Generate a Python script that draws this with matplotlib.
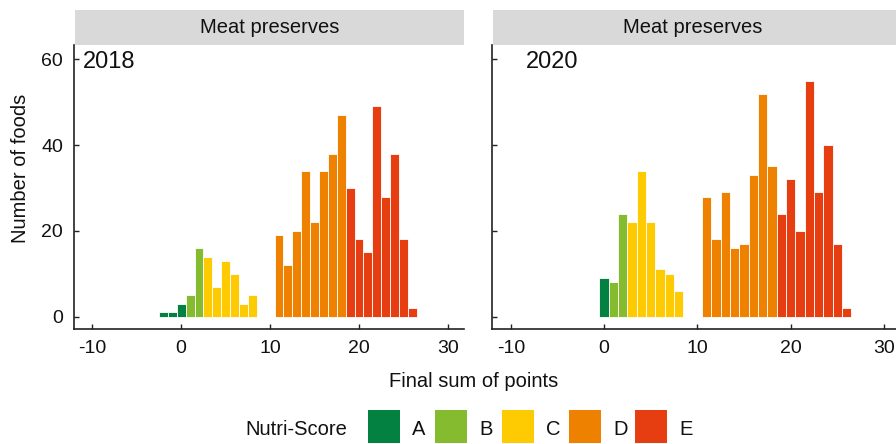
import numpy as np
import matplotlib
matplotlib.use("Agg")
import matplotlib.pyplot as plt
from matplotlib.patches import Rectangle

plt.rcParams['font.family'] = ['Liberation Sans', 'DejaVu Sans']
plt.rcParams['axes.unicode_minus'] = False

# --- DATA ---
scores_2018 = [-2, -1, 0, 1, 2, 3, 4, 5, 6, 7, 8,
               11, 12, 13, 14, 15, 16, 17, 18, 19, 20, 21, 22, 23, 24, 25, 26]
counts_2018 = [1, 1, 3, 5, 16, 14, 7, 13, 10, 3, 5,
               19, 12, 20, 34, 22, 34, 38, 47, 30, 18, 15, 49, 28, 38, 18, 2]
grades_2018 = ["A", "A", "A", "B", "B", "C", "C", "C", "C", "C", "C",
               "D", "D", "D", "D", "D", "D", "D", "D", "E", "E", "E", "E", "E", "E", "E", "E"]

scores_2020 = [0, 1, 2, 3, 4, 5, 6, 7, 8,
               11, 12, 13, 14, 15, 16, 17, 18, 19, 20, 21, 22, 23, 24, 25, 26]
counts_2020 = [9, 8, 24, 22, 34, 22, 11, 10, 6,
               28, 18, 29, 16, 17, 33, 52, 35, 24, 32, 20, 55, 29, 40, 17, 2]
grades_2020 = ["A", "B", "B", "C", "C", "C", "C", "C", "C",
               "D", "D", "D", "D", "D", "D", "D", "D", "E", "E", "E", "E", "E", "E", "E", "E"]

grade_names = ["A", "B", "C", "D", "E"]
grade_colors = {"A": "#038141", "B": "#85BB2F", "C": "#FECB02", "D": "#EE8100", "E": "#E63E11"}

panel_title = "Meat preserves"
years = ["2018", "2020"]
x_ticks = [-10, 0, 10, 20, 30]
y_ticks = [0, 20, 40, 60]

# --- LAYOUT (pixels) ---
W, H = 896, 444
fig = plt.figure(figsize=(W / 100, H / 100), dpi=100)
txt = "#111111"
fs = 14


def box(x0, y0, x1, y1):
    # pixel box (top-left origin) -> figure fraction
    return [x0 / W, 1 - y1 / H, (x1 - x0) / W, (y1 - y0) / H]


panels = [
    (74, 464, scores_2018, counts_2018, grades_2018, 83),
    (491.7, 900.6, scores_2020, counts_2020, grades_2020, 526),
]

axes_line = "#222222"
for i, (x0, x1, sc, ct, gr, year_x) in enumerate(panels):
    ax = fig.add_axes(box(x0, 45, x1, 328.5))
    ax.bar(sc, ct, width=1.0, color=[grade_colors[g] for g in gr],
           edgecolor="white", linewidth=0.6)
    ax.set_xlim(-12.05, 31.8)
    ax.set_ylim(-2.75, 63.3)
    ax.set_xticks(x_ticks)
    ax.set_yticks(y_ticks)
    ax.tick_params(direction="in", length=3.5, width=1, color=axes_line,
                   labelsize=fs, pad=8, labelcolor=txt)
    if i == 1:
        ax.tick_params(axis="y", labelleft=False)
    for s in ["top", "right"]:
        ax.spines[s].set_visible(False)
    for s in ["left", "bottom"]:
        ax.spines[s].set_color(axes_line)
        ax.spines[s].set_linewidth(1.2)

    # facet strip
    sx = fig.add_axes(box(x0 + 0.8, 10, x1, 45))
    sx.set_facecolor("#D9D9D9")
    sx.set_xticks([])
    sx.set_yticks([])
    for s in sx.spines.values():
        s.set_visible(False)
    sx.text(0.5 if i == 0 else 0.49, 0.5, panel_title, ha="center", va="center",
            fontsize=14.5, color=txt, transform=sx.transAxes)

    fig.text(year_x / W, 1 - 68 / H, years[i], fontsize=17, ha="left",
             va="baseline", color=txt)

fig.text(21 / W, 1 - 168 / H, "Number of foods", rotation=90, fontsize=fs + 0.5,
         ha="center", va="center", color=txt)
fig.text(473.5 / W, 1 - 381 / H, "Final sum of points", fontsize=fs + 0.5,
         ha="center", va="center", color=txt)

# legend
fig.text(245 / W, 1 - 429 / H, "Nutri-Score", fontsize=fs + 0.5, ha="left",
         va="center", color=txt)
sw_left = [368, 435, 502, 569, 635]
for g, xl in zip(grade_names, sw_left):
    fig.patches.append(Rectangle((xl / W, 1 - 443 / H), 32 / W, 33 / H,
                                 transform=fig.transFigure,
                                 facecolor=grade_colors[g], edgecolor="none"))
    fig.text((xl + 44) / W, 1 - 429 / H, g, fontsize=fs + 0.5, ha="left",
             va="center", color=txt)

fig.savefig("out.png", dpi=100)
